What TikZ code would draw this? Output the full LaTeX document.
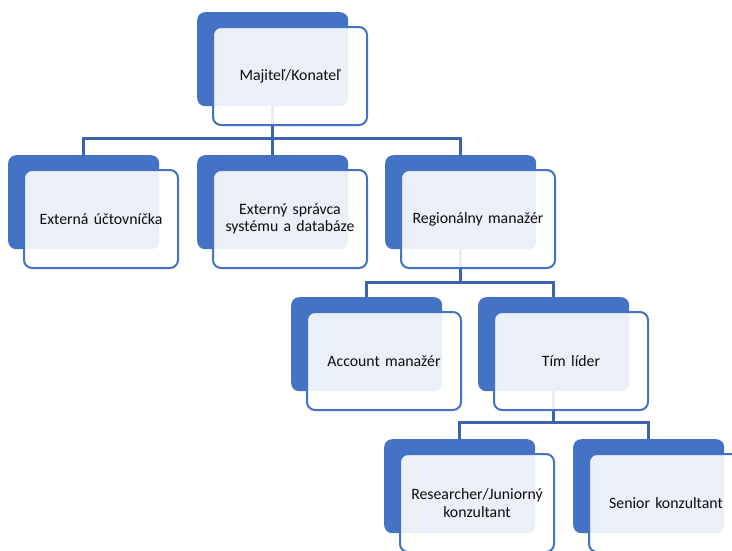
\documentclass[tikz,border=0pt]{standalone}
\usepackage{fontspec}
\setmainfont{Carlito}
\definecolor{accblue}{HTML}{4472C4}
\definecolor{connblue}{HTML}{3C64AE}
\definecolor{txt}{HTML}{0D0D0D}
\pgfdeclarelayer{bglayer}
\pgfdeclarelayer{midlayer}
\pgfsetlayers{bglayer,midlayer,main}
\tikzset{
  backbox/.style={draw=none, fill=accblue, rounded corners=8pt, minimum width=151pt, minimum height=94pt, anchor=north west, inner sep=0pt},
  frontbox/.style={draw=accblue, line width=2pt, fill=white, fill opacity=0.89, text opacity=1, rounded corners=8pt, minimum width=154pt, minimum height=98pt, anchor=north west, inner sep=2pt, align=center, text width=148pt, text=txt, font=\fontsize{15.8}{17.5}\selectfont},
  conn/.style={draw=connblue, line width=2.6pt}
}
\newcommand{\orgbox}[4]{%
  \begin{pgfonlayer}{bglayer}\node[backbox] (#1back) at (#2,#3) {};\end{pgfonlayer}
  \node[frontbox] (#1) at (#2+15,#3+14) {#4};
}
\begin{document}
\begin{tikzpicture}[x=1pt,y=-1pt]
\useasboundingbox (0,0) rectangle (732,550);
\clip (0,0) rectangle (732,550);
\orgbox{m}{197}{12}{Majiteľ/Konateľ}
\orgbox{e1}{8}{155}{Externá účtovníčka}
\orgbox{e2}{197}{155}{Externý správca\\systému a databáze}
\orgbox{r}{385}{155}{Regionálny manažér}
\orgbox{a}{291}{297}{Account manažér}
\orgbox{t}{478}{297}{Tím líder}
\orgbox{j}{384}{439}{Researcher/Juniorný\\konzultant}
\orgbox{s}{573}{439}{Senior konzultant}
\begin{pgfonlayer}{midlayer}
  \draw[conn] (mback.south) -- ++(0,32) coordinate (bus1);
  \draw[conn] (e1back.north) |- (bus1) -| (rback.north);
  \draw[conn] (bus1) -- (e2back.north);
  \draw[conn] (rback.south) -- ++(0,33) coordinate (bus2);
  \draw[conn] (aback.north) |- (bus2) -| (tback.north);
  \draw[conn] (tback.south) -- ++(0,31) coordinate (bus3);
  \draw[conn] (jback.north) |- (bus3) -| (sback.north);
\end{pgfonlayer}
\end{tikzpicture}
\end{document}
